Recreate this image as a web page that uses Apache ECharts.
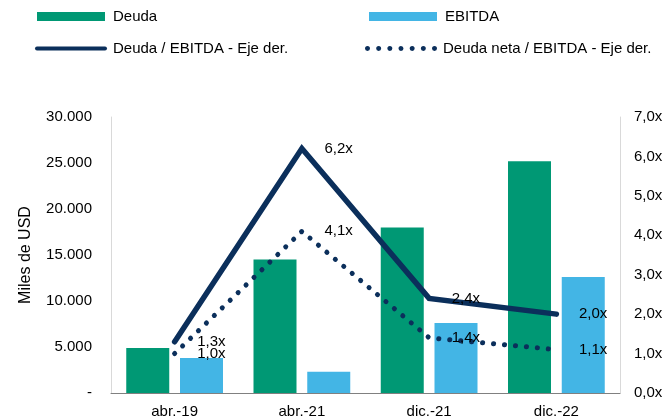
<!DOCTYPE html>
<html>
<head>
<meta charset="utf-8">
<script src="https://cdn.jsdelivr.net/npm/echarts@6/dist/echarts.min.js"></script>
<style>
  html, body { margin: 0; padding: 0; background: #fff; }
  #chart { width: 666px; height: 419px; }
</style>
</head>
<body>
<div id="chart"></div>
<script>
// ========== 数据 ==========
const categories = ['abr.-19', 'abr.-21', 'dic.-21', 'dic.-22'];
const deuda = [4900, 14500, 18000, 25200];
const ebitda = [3800, 2300, 7600, 12600];
const deudaEbitda = [1.3, 6.2, 2.4, 2.0];
const deudaNetaEbitda = [1.0, 4.1, 1.4, 1.1];

const FONT = '"Liberation Sans", Arial, sans-serif';
const GREEN = '#009874';
const BLUE = '#43b5e5';
const NAVY = '#0b2f5b';

const fmtMiles = v => v === 0 ? '-' : v.toLocaleString('de-DE');
const fmtX = v => v.toFixed(1).replace('.', ',') + 'x';

// legend icons: thick rounded line, and a row of 7 dots
const solidIcon = 'path://M2,0 L70,0 A2,2 0 0 1 70,4 L2,4 A2,2 0 0 1 2,0 Z';
let dotIcon = 'path://';
for (let i = 0; i < 7; i++) {
  const cx = 2.5 + i * 11.17;
  dotIcon += `M${(cx - 2.5).toFixed(2)},2.5 A2.5,2.5 0 1 0 ${(cx + 2.5).toFixed(2)},2.5 A2.5,2.5 0 1 0 ${(cx - 2.5).toFixed(2)},2.5 Z `;
}

const chart = echarts.init(document.getElementById('chart'), null, { renderer: 'canvas' });

const legendBase = {
  padding: 0,
  textStyle: { fontFamily: FONT, fontSize: 15, color: '#000', padding: [0, 0, 0, 3] },
  selectedMode: false
};
const legendLineText = { fontFamily: FONT, fontSize: 15, color: '#000', padding: [0, 0, 0, 1] };

const lineLabel = {
  show: true,
  position: 'right',
  distance: 22,
  fontFamily: FONT,
  fontSize: 15,
  color: '#000',
  formatter: p => fmtX(p.value)
};

chart.setOption({
  backgroundColor: '#fff',
  animation: false,
  legend: [
    Object.assign({}, legendBase, { left: 37, top: 9, itemWidth: 68, itemHeight: 9, data: [{ name: 'Deuda', icon: 'rect' }] }),
    Object.assign({}, legendBase, { left: 369, top: 9, itemWidth: 68, itemHeight: 9, data: [{ name: 'EBITDA', icon: 'rect' }] }),
    Object.assign({}, legendBase, {
      left: 35, top: 41, itemWidth: 72, itemHeight: 4, textStyle: legendLineText,
      data: [{ name: 'Deuda / EBITDA - Eje der.', icon: solidIcon, itemStyle: { color: NAVY } }]
    }),
    Object.assign({}, legendBase, {
      left: 365, top: 41, itemWidth: 72, itemHeight: 5, textStyle: legendLineText,
      data: [{ name: 'Deuda neta / EBITDA - Eje der.', icon: dotIcon, itemStyle: { color: NAVY } }]
    })
  ],
  grid: { left: 111, right: 46, top: 117, bottom: 26 },
  xAxis: {
    type: 'category',
    data: categories,
    axisLine: { lineStyle: { color: '#808080', width: 1 } },
    axisTick: { show: false },
    axisLabel: { fontFamily: FONT, fontSize: 15, color: '#000', margin: 11 }
  },
  yAxis: [
    {
      type: 'value',
      min: 0, max: 30000, interval: 5000,
      name: 'Miles de USD',
      nameLocation: 'middle',
      nameGap: 77,
      nameTextStyle: { fontFamily: FONT, fontSize: 16, color: '#000' },
      axisLine: { show: true, lineStyle: { color: '#d9d9d9' } },
      axisTick: { show: false },
      splitLine: { show: false },
      axisLabel: { fontFamily: FONT, fontSize: 15, color: '#000', margin: 19, formatter: fmtMiles }
    },
    {
      type: 'value',
      min: 0, max: 7, interval: 1,
      position: 'right',
      axisLine: { show: true, lineStyle: { color: '#d9d9d9' } },
      axisTick: { show: false },
      splitLine: { show: false },
      axisLabel: { fontFamily: FONT, fontSize: 15, color: '#000', margin: 14, formatter: fmtX }
    }
  ],
  series: [
    {
      name: 'Deuda', type: 'bar', data: deuda,
      barWidth: 43, barGap: '25%',
      itemStyle: { color: GREEN }
    },
    {
      name: 'EBITDA', type: 'bar', data: ebitda,
      barWidth: 43,
      itemStyle: { color: BLUE }
    },
    {
      name: 'Deuda / EBITDA - Eje der.', type: 'line', yAxisIndex: 1, data: deudaEbitda,
      symbol: 'circle', symbolSize: 1,
      itemStyle: { color: 'rgba(0,0,0,0)' },
      lineStyle: { color: NAVY, width: 5.5, cap: 'round', join: 'miter' },
      label: lineLabel,
      z: 5
    },
    {
      name: 'Deuda neta / EBITDA - Eje der.', type: 'line', yAxisIndex: 1, data: deudaNetaEbitda,
      symbol: 'circle', symbolSize: 1,
      itemStyle: { color: 'rgba(0,0,0,0)' },
      lineStyle: { color: NAVY, width: 5, type: [0.1, 10.9], cap: 'round' },
      label: lineLabel,
      z: 4
    }
  ]
});
</script>
</body>
</html>
